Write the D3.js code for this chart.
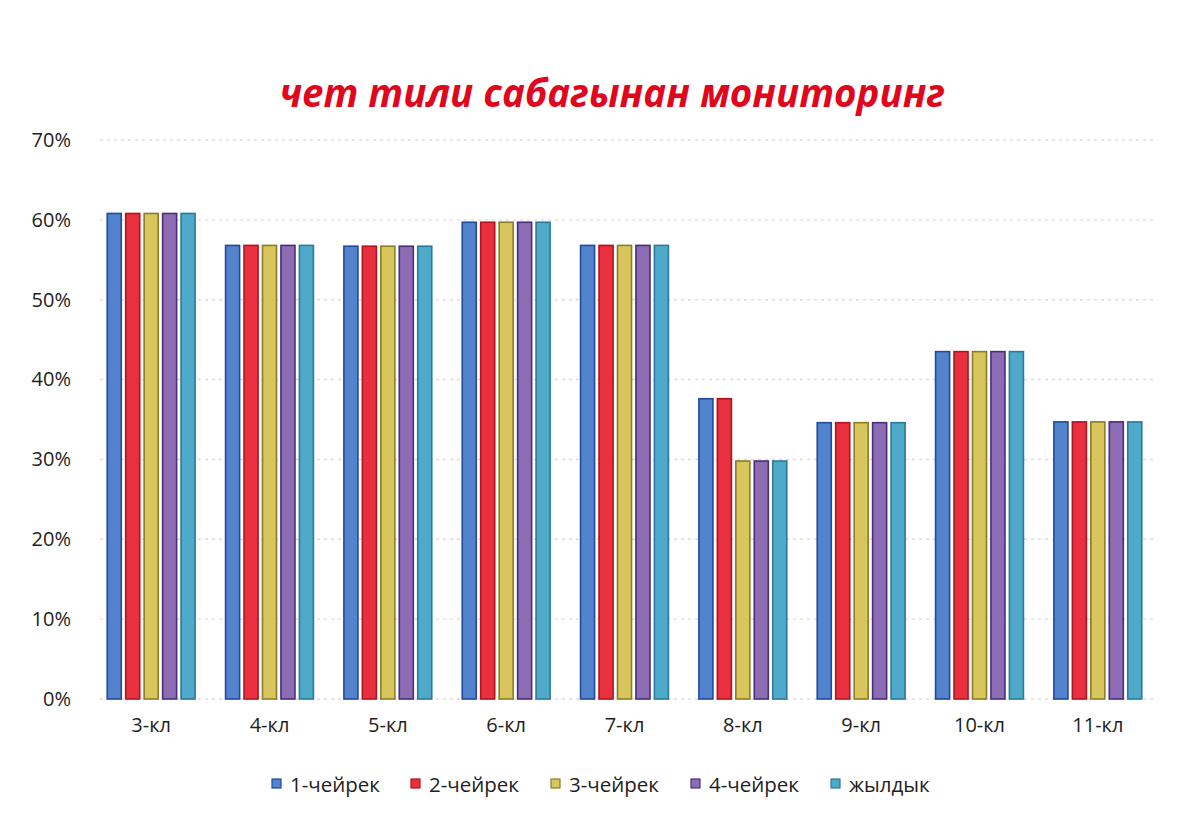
<!DOCTYPE html>
<html>
<head>
<meta charset="utf-8">
<script src="https://d3js.org/d3.v7.min.js"></script>
<style>
body {
  margin: 0;
  background: #fff;
  font-family: "Open Sans", "DejaVu Sans", sans-serif;
}
svg { display: block; }
.axis text { font-family: "Open Sans", sans-serif; font-size: 20px; fill: #1e1e1e; }
.grid line { stroke: #e6d8da; stroke-width: 1.4; stroke-dasharray: 3,4; }
</style>
</head>
<body>
<svg width="1188" height="824"></svg>
<script>

// data (percent)
var classes = ["3-кл", "4-кл", "5-кл", "6-кл", "7-кл", "8-кл", "9-кл", "10-кл", "11-кл"];
var seriesNames = ["1-чейрек", "2-чейрек", "3-чейрек", "4-чейрек", "жылдык"];
var q1   = [60.8, 56.8, 56.7, 59.7, 56.8, 37.6, 34.6, 43.5, 34.7];
var q2   = [60.8, 56.8, 56.7, 59.7, 56.8, 37.6, 34.6, 43.5, 34.7];
var q3   = [60.8, 56.8, 56.7, 59.7, 56.8, 29.8, 34.6, 43.5, 34.7];
var q4   = [60.8, 56.8, 56.7, 59.7, 56.8, 29.8, 34.6, 43.5, 34.7];
var year = [60.8, 56.8, 56.7, 59.7, 56.8, 29.8, 34.6, 43.5, 34.7];
var yTicks = [0, 10, 20, 30, 40, 50, 60, 70];

var fills   = ["#5283cc", "#e8303e", "#d8c55c", "#8c6cb2", "#4eaac8"];
var strokes = ["#1f4a9e", "#b5121f", "#8d7c22", "#4b2d7c", "#2a7a9c"];

var table = classes.map(function(c, i) {
  return { cls: c, values: [q1[i], q2[i], q3[i], q4[i], year[i]] };
});

var svg = d3.select("svg");
var plotLeft = 92, plotRight = 1157, plotTop = 140, plotBottom = 699;

var x0 = d3.scaleBand()
    .domain(classes)
    .range([plotLeft, plotRight])
    .paddingInner(0.22)
    .paddingOuter(0.11);

var x1 = d3.scaleBand()
    .domain(d3.range(seriesNames.length))
    .range([0, x0.bandwidth()])
    .paddingInner(0.24)
    .paddingOuter(0.12);

var y = d3.scaleLinear()
    .domain([0, 70])
    .range([plotBottom, plotTop]);

// title
svg.append("text")
    .attr("x", 612)
    .attr("y", 107)
    .attr("text-anchor", "middle")
    .style("font-family", "'Open Sans', sans-serif")
    .style("font-weight", "bold")
    .style("font-style", "italic")
    .style("font-size", "38.5px")
    .style("fill", "#e0061c")
    .text("чет тили сабагынан мониторинг");

// grid
svg.append("g")
    .attr("class", "grid")
    .selectAll("line")
    .data(yTicks)
    .enter().append("line")
    .attr("x1", plotLeft + 8)
    .attr("x2", plotRight)
    .attr("y1", d => y(d))
    .attr("y2", d => y(d));

// y axis
var yAxis = svg.append("g")
    .attr("class", "axis")
    .attr("transform", "translate(" + (plotLeft - 21) + ",0)")
    .call(d3.axisLeft(y).tickValues(yTicks).tickSize(0).tickPadding(0).tickFormat(d => d + "%"));
yAxis.select(".domain").remove();

// x axis
var xAxis = svg.append("g")
    .attr("class", "axis")
    .attr("transform", "translate(0," + (plotBottom + 19) + ")")
    .call(d3.axisBottom(x0).tickSize(0).tickPadding(0));
xAxis.select(".domain").remove();

// bars
var groups = svg.selectAll(".layer")
    .data(table)
    .enter().append("g")
    .attr("class", "layer")
    .attr("transform", d => "translate(" + x0(d.cls) + ",0)");

groups.selectAll("rect")
    .data(d => d.values.map(function(v, k) { return { k: k, v: v }; }))
    .enter().append("rect")
    .attr("x", d => x1(d.k))
    .attr("y", d => y(d.v))
    .attr("width", x1.bandwidth())
    .attr("height", d => y(0) - y(d.v))
    .attr("fill", d => fills[d.k])
    .attr("stroke", d => strokes[d.k])
    .attr("stroke-width", 1.6);

// legend
var legendX = [272, 411, 551, 691, 831];
var legend = svg.append("g");
seriesNames.forEach(function(name, k) {
  legend.append("rect")
      .attr("x", legendX[k])
      .attr("y", 779)
      .attr("width", 9)
      .attr("height", 9)
      .attr("fill", fills[k])
      .attr("stroke", strokes[k])
      .attr("stroke-width", 1.2);
  legend.append("text")
      .attr("x", legendX[k] + 18)
      .attr("y", 792)
      .style("font-size", "20.5px")
      .style("fill", "#1e1e1e")
      .text(name);
});

</script>
</body>
</html>
